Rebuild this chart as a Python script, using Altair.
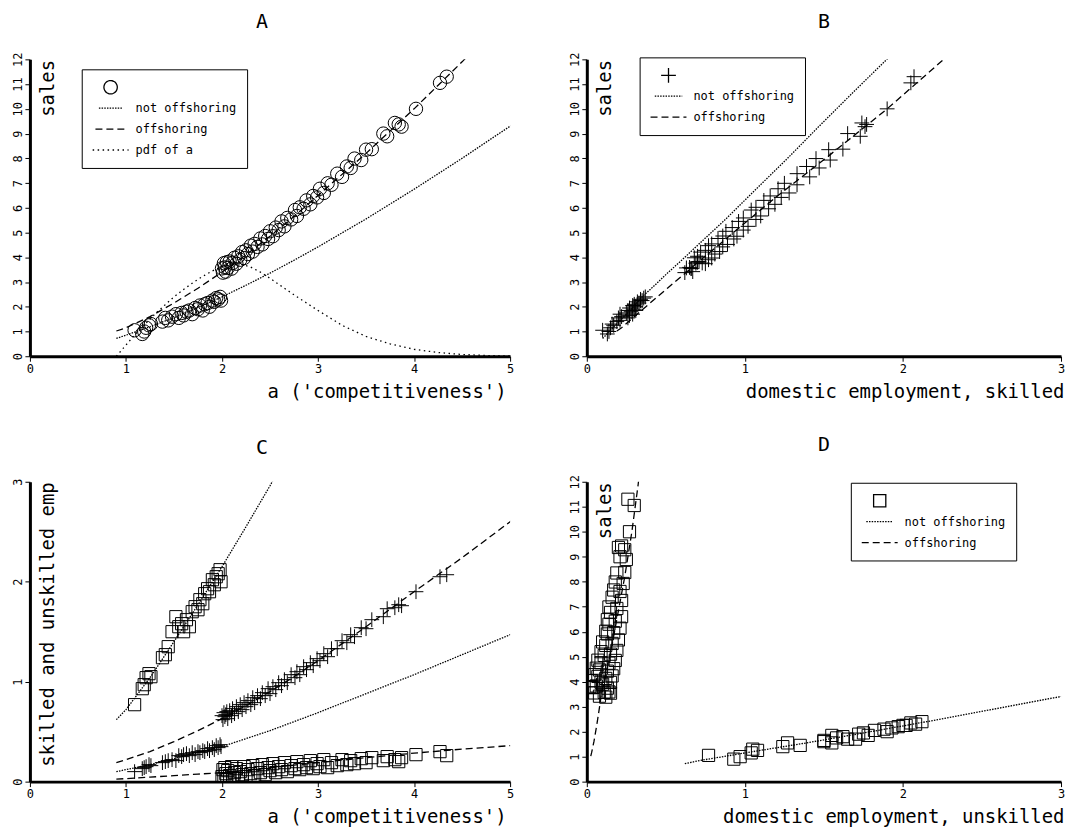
import altair as alt
import pandas as pd

MONO = "DejaVu Sans Mono"

# ---------------- firm level data (read from the scatter clouds) ----------------
# firms that do not offshore (a < 2)
no_a = [1.09, 1.17, 1.19, 1.21, 1.24, 1.26, 1.38, 1.41, 1.44, 1.48, 1.52, 1.55, 1.58, 1.60, 1.63,
        1.66, 1.69, 1.72, 1.75, 1.77, 1.80, 1.82, 1.85, 1.87, 1.90, 1.92, 1.94, 1.96, 1.98, 1.99]
no_sales = [1.05, 0.90, 1.00, 1.15, 1.25, 1.30, 1.40, 1.55, 1.45, 1.60, 1.70, 1.55, 1.75, 1.65, 1.80,
            1.85, 1.70, 1.95, 1.90, 2.05, 1.85, 2.10, 2.15, 2.00, 2.25, 2.20, 2.35, 2.30, 2.40, 2.25]
no_skilled = [0.10, 0.13, 0.14, 0.15, 0.17, 0.16, 0.19, 0.20, 0.21, 0.22, 0.21, 0.26, 0.25, 0.27, 0.28,
              0.26, 0.29, 0.27, 0.30, 0.29, 0.31, 0.30, 0.33, 0.31, 0.34, 0.32, 0.36, 0.34, 0.37, 0.35]
no_unskilled = [0.77, 0.93, 0.97, 1.04, 1.08, 1.05, 1.24, 1.27, 1.35, 1.50, 1.65, 1.55, 1.58, 1.50, 1.62,
                1.55, 1.70, 1.75, 1.72, 1.82, 1.78, 1.88, 1.93, 1.90, 2.02, 1.97, 2.05, 2.08, 2.12, 2.00]

# firms that offshore (a >= 2)
off_a = [2.00, 2.01, 2.02, 2.03, 2.04, 2.05, 2.06, 2.08, 2.10, 2.11, 2.13, 2.15, 2.17, 2.19, 2.21,
         2.23, 2.25, 2.27, 2.30, 2.32, 2.34, 2.37, 2.40, 2.42, 2.45, 2.48, 2.50, 2.53, 2.56, 2.59,
         2.62, 2.65, 2.68, 2.72, 2.76, 2.78, 2.81, 2.85, 2.88, 2.92, 2.95, 2.99, 3.02, 3.06, 3.10,
         3.14, 3.20, 3.25, 3.30, 3.34, 3.38, 3.45, 3.50, 3.56, 3.68, 3.72, 3.80, 3.84, 3.87, 4.02,
         4.27, 4.34]
off_sales = [3.55, 3.38, 3.76, 3.59, 3.42, 3.80, 3.57, 3.83, 3.54, 3.77, 3.98, 3.74, 4.04, 3.90, 4.21,
             3.97, 4.28, 4.13, 4.47, 4.23, 4.54, 4.42, 4.76, 4.52, 4.86, 4.74, 5.05, 4.85, 5.20, 5.10,
             5.45, 5.25, 5.59, 5.53, 5.91, 5.67, 6.02, 5.96, 6.30, 6.14, 6.48, 6.42, 6.77, 6.60, 6.99,
             6.93, 7.38, 7.25, 7.67, 7.61, 7.99, 7.93, 8.35, 8.37, 9.00, 8.89, 9.43, 9.37, 9.28, 10.00,
             11.05, 11.30]
off_skilled = [0.66, 0.62, 0.69, 0.65, 0.67, 0.70, 0.63, 0.71, 0.66, 0.73, 0.68, 0.75, 0.70, 0.77, 0.72,
               0.79, 0.75, 0.81, 0.77, 0.84, 0.79, 0.86, 0.83, 0.89, 0.86, 0.93, 0.88, 0.95, 0.92, 0.99,
               0.96, 1.02, 0.99, 1.07, 1.04, 1.10, 1.07, 1.15, 1.12, 1.19, 1.16, 1.23, 1.21, 1.28, 1.25,
               1.33, 1.33, 1.41, 1.39, 1.47, 1.45, 1.54, 1.53, 1.62, 1.65, 1.73, 1.74, 1.77, 1.76, 1.90,
               2.05, 2.07]
off_unskilled = [0.05, 0.12, 0.03, 0.14, 0.08, 0.02, 0.11, 0.06, 0.15, 0.04, 0.09, 0.13, 0.03, 0.10, 0.07,
                 0.15, 0.05, 0.12, 0.08, 0.16, 0.06, 0.13, 0.09, 0.17, 0.07, 0.14, 0.11, 0.18, 0.09, 0.15,
                 0.12, 0.19, 0.10, 0.16, 0.13, 0.20, 0.12, 0.17, 0.14, 0.21, 0.13, 0.18, 0.15, 0.22, 0.14,
                 0.19, 0.16, 0.22, 0.17, 0.21, 0.18, 0.23, 0.19, 0.24, 0.21, 0.25, 0.22, 0.20, 0.24, 0.27,
                 0.30, 0.26]

# ---------------- model curves ----------------
grid_a = [0.9, 1.0, 1.25, 1.5, 1.75, 2.0, 2.25, 2.5, 2.75, 3.0, 3.5, 4.0, 4.5, 5.0, 5.5, 6.0]
sales_no = [0.72, 0.85, 1.19, 1.56, 1.97, 2.40, 2.87, 3.36, 3.88, 4.42, 5.55, 6.75, 8.0, 9.3, 10.7, 12.2]
sales_off = [1.02, 1.15, 1.60, 2.15, 2.75, 3.40, 4.10, 4.85, 5.65, 6.50, 8.20, 10.0, 11.9, 13.9, 16.0, 18.2]
skilled_no = [0.10, 0.12, 0.17, 0.23, 0.29, 0.35, 0.43, 0.51, 0.60, 0.69, 0.88, 1.07, 1.27, 1.47, 1.69, 1.93]
skilled_off = [0.19, 0.22, 0.30, 0.40, 0.51, 0.63, 0.76, 0.90, 1.05, 1.21, 1.55, 1.90, 2.24, 2.60, 2.97, 3.35]
unskilled_no = [0.62, 0.72, 1.04, 1.40, 1.77, 2.15, 2.55, 2.96, 3.40, 3.85, 4.8, 5.8, 6.9, 8.0, 9.2, 10.5]
unskilled_off = [0.025, 0.03, 0.045, 0.06, 0.075, 0.09, 0.115, 0.14, 0.165, 0.19, 0.24, 0.285, 0.325,
                 0.36, 0.40, 0.44]

pdf_a = [0.9, 1.0, 1.1, 1.2, 1.3, 1.4, 1.5, 1.6, 1.7, 1.8, 1.9, 2.0, 2.1, 2.2, 2.3, 2.4, 2.5, 2.75,
         3.0, 3.25, 3.5, 3.75, 4.0, 4.25, 4.5, 4.75, 5.0]
pdf_val = [0.0, 0.45, 0.9, 1.3, 1.7, 2.05, 2.4, 2.7, 2.98, 3.23, 3.45, 3.62, 3.72, 3.72, 3.6, 3.4, 3.15,
           2.48, 1.85, 1.25, 0.8, 0.5, 0.28, 0.15, 0.07, 0.03, 0.01]

# text
panel_titles = ["A", "B", "C", "D"]
x_titles = ["a ('competitiveness')", "domestic employment, skilled",
            "a ('competitiveness')", "domestic employment, unskilled"]
y_titles = ["sales", "sales", "skilled and unskilled emp", "sales"]
keys = ["pt", "not offshoring", "offshoring", "pdf of a"]

# ---------------- tables ----------------
firms = pd.DataFrame({
    "a": no_a + off_a,
    "sales": no_sales + off_sales,
    "skilled": no_skilled + off_skilled,
    "unskilled": no_unskilled + off_unskilled,
})
firms["key"] = "pt"


def curve(xs, ys, key, series="s"):
    return pd.DataFrame({"x": xs, "y": ys, "key": key, "series": series, "o": list(range(len(xs)))})


DASH = {"pt": [1, 0], "not offshoring": [1.5, 1.2], "offshoring": [7, 4], "pdf of a": [1.5, 3.5]}
PLUS = "M-1,0L1,0M0,-1L0,1"


def xaxis(title, values, tx):
    return alt.Axis(title=title, values=values, grid=False, domainWidth=3, domainColor="black",
                    tickColor="black", tickSize=5, tickWidth=1, labelFont=MONO, labelFontSize=12,
                    labelColor="black", labelPadding=2, labelAngle=0, labelFlush=False,
                    titleFont=MONO, titleFontSize=19, titleFontWeight="normal", titleColor="black",
                    titleX=tx, titleY=41, titleAlign="right", titleBaseline="alphabetic")


def yaxis(title, values):
    return alt.Axis(title=title, values=values, grid=False, domainWidth=3, domainColor="black",
                    tickColor="black", tickSize=5, tickWidth=1, labelFont=MONO, labelFontSize=12,
                    labelColor="black", labelPadding=0, labelAngle=270, labelAlign="center",
                    labelBaseline="bottom", labelFlush=False,
                    titleFont=MONO, titleFontSize=19, titleFontWeight="normal", titleColor="black",
                    titleAngle=270, titleX=18, titleY=0, titleAlign="right", titleBaseline="middle")


def leg(lx, ly):
    return alt.Legend(title=None, orient="none", legendX=lx, legendY=ly, strokeColor="black",
                      fillColor="white", padding=10, labelFont=MONO, labelFontSize=12,
                      labelColor="black", labelOffset=6, rowPadding=5, clipHeight=16,
                      symbolStrokeColor="black", symbolStrokeWidth=1.3, symbolOpacity=1,
                      labelExpr="datum.label == 'pt' ? '' : datum.label")


def panel(idx, lines, pts, xdom, ydom, xvals, yvals, tx, w, h, tdx, dom=None, shapes=None,
          sizes=None, legpos=None):
    xs = alt.Scale(domain=xdom, nice=False, zero=False)
    ys = alt.Scale(domain=ydom, nice=False, zero=False)
    xa = xaxis(x_titles[idx], xvals, tx)
    ya = yaxis(y_titles[idx], yvals)
    if dom is not None:
        lg = leg(*legpos)
        dash_scale = alt.Scale(domain=dom, range=[DASH[k] for k in dom])
        sd = alt.StrokeDash("key:N", scale=dash_scale, legend=lg)
    else:
        lg = None
        dash_scale = alt.Scale(domain=list(DASH.keys()), range=list(DASH.values()))
        sd = alt.StrokeDash("key:N", scale=dash_scale, legend=None)
    line = alt.Chart(lines).mark_line(clip=True, color="black", strokeWidth=1.3).encode(
        x=alt.X("x:Q", scale=xs, axis=xa),
        y=alt.Y("y:Q", scale=ys, axis=ya),
        strokeDash=sd,
        detail="series:N",
        order="o:Q",
    )
    layers = [line]
    for (df, xf, yf, shp, sz) in pts:
        if dom is not None:
            m = alt.Chart(df).mark_point(filled=False, color="black", opacity=1, strokeWidth=1,
                                         clip=True).encode(
                x=alt.X(xf + ":Q", scale=xs, axis=xa),
                y=alt.Y(yf + ":Q", scale=ys, axis=ya),
                shape=alt.Shape("key:N", scale=alt.Scale(domain=dom, range=shapes), legend=lg),
                size=alt.Size("key:O", scale=alt.Scale(domain=dom, range=sizes), legend=lg),
            )
        else:
            m = alt.Chart(df).mark_point(filled=False, color="black", opacity=1, strokeWidth=1,
                                         clip=True, shape=shp, size=sz).encode(
                x=alt.X(xf + ":Q", scale=xs, axis=xa),
                y=alt.Y(yf + ":Q", scale=ys, axis=ya),
            )
        layers.append(m)
    return alt.layer(*layers).properties(
        width=w, height=h,
        title=alt.TitleParams(panel_titles[idx], font=MONO, fontSize=20, fontWeight="normal",
                              color="black", offset=20, dx=tdx),
    )


linesA = pd.concat([curve(grid_a, sales_no, "not offshoring"), curve(grid_a, sales_off, "offshoring"),
                    curve(pdf_a, pdf_val, "pdf of a")])
linesB = pd.concat([curve(skilled_no, sales_no, "not offshoring"),
                    curve(skilled_off, sales_off, "offshoring")])
linesC = pd.concat([curve(grid_a, skilled_no, "not offshoring", "sk"),
                    curve(grid_a, skilled_off, "offshoring", "sk"),
                    curve(grid_a, unskilled_no, "not offshoring", "un"),
                    curve(grid_a, unskilled_off, "offshoring", "un")])
linesD = pd.concat([curve(unskilled_no, sales_no, "not offshoring"),
                    curve(unskilled_off, sales_off, "offshoring")])

WL, WR = 482, 476
A = panel(0, linesA, [(firms, "a", "sales", None, None)], [0, 5], [0, 12], list(range(6)),
          list(range(13)), 478, WL, 298, -8, dom=keys,
          shapes=["circle", "stroke", "stroke", "stroke"], sizes=[180, 1300, 1300, 1300],
          legpos=(52, 10))
B = panel(1, linesB, [(firms, "skilled", "sales", None, None)], [0, 3], [0, 12], list(range(4)),
          list(range(13)), 479, WR, 298, 0, dom=keys[:3], shapes=[PLUS, "stroke", "stroke"],
          sizes=[220, 1300, 1300], legpos=(53, -2))
C = panel(2, linesC, [(firms, "a", "skilled", PLUS, 220), (firms, "a", "unskilled", "square", 150)],
          [0, 5], [0, 3], list(range(6)), list(range(4)), 478, WL, 301, -8)
D = panel(3, linesD, [(firms, "unskilled", "sales", None, None)], [0, 3], [0, 12], list(range(4)),
          list(range(13)), 479, WR, 301, 0, dom=keys[:3], shapes=["square", "stroke", "stroke"],
          sizes=[150, 1300, 1300], legpos=(265, 1))

ind = dict(shape="independent", size="independent", strokeDash="independent")
chart = alt.concat(A, B, C, D, columns=2, spacing=alt.RowColnumber(row=126, column=77),
                   bounds="flush").resolve_scale(**ind).configure_view(
    stroke=None).properties(padding={"left": 4, "top": 2, "right": 2, "bottom": 2},
                            background="white")

chart.save("out.html", embed_options={"renderer": "svg", "actions": False})
